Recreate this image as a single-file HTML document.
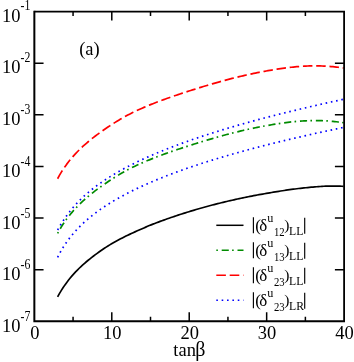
<!DOCTYPE html>
<html><head><meta charset="utf-8"><title>plot</title>
<style>html,body{margin:0;padding:0;background:#fff;}body{width:354px;height:362px;overflow:hidden;font-family:"Liberation Serif",serif;}</style>
</head><body>
<svg width="354" height="362" viewBox="0 0 354 362" style="display:block">
<rect width="354" height="362" fill="#fff"/>
<g fill="none" stroke-linejoin="round">
<path d="M57.60,296.89 L59.40,293.61 L61.20,290.59 L63.00,287.77 L64.79,285.14 L66.59,282.65 L68.39,280.29 L70.19,278.05 L71.99,275.90 L73.79,273.86 L75.59,271.92 L77.39,270.05 L79.18,268.27 L80.98,266.55 L82.78,264.89 L84.58,263.30 L86.38,261.75 L88.18,260.26 L89.98,258.81 L91.78,257.40 L93.57,256.01 L95.37,254.66 L97.17,253.33 L98.97,252.03 L100.77,250.77 L102.57,249.53 L104.37,248.32 L106.17,247.14 L107.96,245.99 L109.76,244.88 L111.56,243.80 L113.36,242.75 L115.16,241.74 L116.96,240.75 L118.76,239.79 L120.56,238.84 L122.35,237.91 L124.15,237.00 L125.95,236.11 L127.75,235.24 L129.55,234.37 L131.35,233.53 L133.15,232.70 L134.95,231.88 L136.74,231.07 L138.54,230.28 L140.34,229.50 L142.14,228.71 L143.94,227.92 L145.74,227.12 L147.54,226.34 L149.34,225.59 L151.13,224.86 L152.93,224.15 L154.73,223.45 L156.53,222.76 L158.33,222.08 L160.13,221.41 L161.93,220.75 L163.73,220.09 L165.52,219.44 L167.32,218.81 L169.12,218.18 L170.92,217.55 L172.72,216.94 L174.52,216.33 L176.32,215.73 L178.12,215.14 L179.91,214.55 L181.71,213.97 L183.51,213.40 L185.31,212.83 L187.11,212.27 L188.91,211.71 L190.71,211.16 L192.51,210.62 L194.30,210.09 L196.10,209.55 L197.90,209.03 L199.70,208.51 L201.50,208.00 L203.30,207.49 L205.10,206.99 L206.90,206.50 L208.69,206.01 L210.49,205.53 L212.29,205.05 L214.09,204.58 L215.89,204.12 L217.69,203.66 L219.49,203.21 L221.29,202.76 L223.08,202.32 L224.88,201.89 L226.68,201.46 L228.48,201.04 L230.28,200.62 L232.08,200.21 L233.88,199.80 L235.68,199.40 L237.47,199.01 L239.27,198.62 L241.07,198.24 L242.87,197.86 L244.67,197.49 L246.47,197.12 L248.27,196.76 L250.07,196.40 L251.86,196.05 L253.66,195.71 L255.46,195.36 L257.26,195.03 L259.06,194.70 L260.86,194.37 L262.66,194.05 L264.46,193.73 L266.25,193.41 L268.05,193.10 L269.85,192.79 L271.65,192.48 L273.45,192.18 L275.25,191.88 L277.05,191.59 L278.85,191.30 L280.64,191.02 L282.44,190.74 L284.24,190.47 L286.04,190.20 L287.84,189.94 L289.64,189.69 L291.44,189.44 L293.24,189.20 L295.03,188.97 L296.83,188.74 L298.63,188.52 L300.43,188.31 L302.23,188.11 L304.03,187.92 L305.83,187.73 L307.63,187.55 L309.42,187.38 L311.22,187.22 L313.02,187.06 L314.82,186.90 L316.62,186.76 L318.42,186.62 L320.22,186.49 L322.02,186.37 L323.81,186.27 L325.61,186.18 L327.41,186.10 L329.21,186.06 L331.01,186.04 L332.81,186.04 L334.61,186.05 L336.41,186.07 L338.20,186.11 L340.00,186.16 L341.80,186.23 L343.60,186.31" stroke="#000" stroke-width="1.7"/>
<path d="M57.60,233.46 L59.40,230.13 L61.20,227.07 L63.00,224.23 L64.79,221.58 L66.59,219.08 L68.39,216.72 L70.19,214.48 L71.99,212.35 L73.79,210.30 L75.59,208.34 L77.39,206.45 L79.18,204.64 L80.98,202.89 L82.78,201.19 L84.58,199.56 L86.38,197.97 L88.18,196.44 L89.98,194.94 L91.78,193.49 L93.57,192.08 L95.37,190.70 L97.17,189.35 L98.97,188.03 L100.77,186.73 L102.57,185.46 L104.37,184.21 L106.17,182.98 L107.96,181.77 L109.76,180.57 L111.56,179.39 L113.36,178.23 L115.16,177.09 L116.96,175.97 L118.76,174.87 L120.56,173.80 L122.35,172.75 L124.15,171.73 L125.95,170.74 L127.75,169.78 L129.55,168.84 L131.35,167.93 L133.15,167.04 L134.95,166.17 L136.74,165.32 L138.54,164.49 L140.34,163.68 L142.14,162.88 L143.94,162.10 L145.74,161.33 L147.54,160.58 L149.34,159.84 L151.13,159.11 L152.93,158.40 L154.73,157.69 L156.53,157.00 L158.33,156.31 L160.13,155.63 L161.93,154.97 L163.73,154.31 L165.52,153.66 L167.32,153.01 L169.12,152.38 L170.92,151.75 L172.72,151.13 L174.52,150.51 L176.32,149.90 L178.12,149.29 L179.91,148.69 L181.71,148.09 L183.51,147.50 L185.31,146.92 L187.11,146.33 L188.91,145.75 L190.71,145.18 L192.51,144.61 L194.30,144.04 L196.10,143.48 L197.90,142.92 L199.70,142.36 L201.50,141.80 L203.30,141.25 L205.10,140.71 L206.90,140.16 L208.69,139.63 L210.49,139.09 L212.29,138.57 L214.09,138.04 L215.89,137.53 L217.69,137.02 L219.49,136.51 L221.29,136.01 L223.08,135.52 L224.88,135.03 L226.68,134.55 L228.48,134.07 L230.28,133.60 L232.08,133.14 L233.88,132.69 L235.68,132.24 L237.47,131.80 L239.27,131.36 L241.07,130.93 L242.87,130.51 L244.67,130.10 L246.47,129.69 L248.27,129.29 L250.07,128.90 L251.86,128.51 L253.66,128.13 L255.46,127.76 L257.26,127.40 L259.06,127.04 L260.86,126.69 L262.66,126.35 L264.46,126.01 L266.25,125.68 L268.05,125.36 L269.85,125.05 L271.65,124.74 L273.45,124.44 L275.25,124.14 L277.05,123.86 L278.85,123.58 L280.64,123.31 L282.44,123.05 L284.24,122.81 L286.04,122.57 L287.84,122.34 L289.64,122.13 L291.44,121.93 L293.24,121.74 L295.03,121.56 L296.83,121.40 L298.63,121.25 L300.43,121.11 L302.23,120.99 L304.03,120.88 L305.83,120.79 L307.63,120.72 L309.42,120.66 L311.22,120.61 L313.02,120.58 L314.82,120.57 L316.62,120.58 L318.42,120.60 L320.22,120.63 L322.02,120.69 L323.81,120.76 L325.61,120.85 L327.41,120.96 L329.21,121.08 L331.01,121.23 L332.81,121.39 L334.61,121.56 L336.41,121.76 L338.20,121.97 L340.00,122.21 L341.80,122.46 L343.60,122.73" stroke="#008b00" stroke-width="1.7" stroke-dasharray="1.6,3.83,7.15,3.33"/>
<path d="M57.60,178.76 L59.40,175.43 L61.20,172.37 L63.00,169.53 L64.79,166.88 L66.59,164.38 L68.39,162.02 L70.19,159.78 L71.99,157.65 L73.79,155.60 L75.59,153.64 L77.39,151.75 L79.18,149.94 L80.98,148.19 L82.78,146.49 L84.58,144.86 L86.38,143.27 L88.18,141.74 L89.98,140.24 L91.78,138.79 L93.57,137.38 L95.37,136.00 L97.17,134.65 L98.97,133.33 L100.77,132.03 L102.57,130.76 L104.37,129.51 L106.17,128.28 L107.96,127.07 L109.76,125.87 L111.56,124.69 L113.36,123.53 L115.16,122.39 L116.96,121.27 L118.76,120.17 L120.56,119.10 L122.35,118.05 L124.15,117.03 L125.95,116.04 L127.75,115.08 L129.55,114.14 L131.35,113.23 L133.15,112.34 L134.95,111.47 L136.74,110.62 L138.54,109.79 L140.34,108.98 L142.14,108.18 L143.94,107.40 L145.74,106.63 L147.54,105.88 L149.34,105.14 L151.13,104.41 L152.93,103.70 L154.73,102.99 L156.53,102.30 L158.33,101.61 L160.13,100.93 L161.93,100.27 L163.73,99.61 L165.52,98.96 L167.32,98.31 L169.12,97.68 L170.92,97.05 L172.72,96.43 L174.52,95.81 L176.32,95.20 L178.12,94.59 L179.91,93.99 L181.71,93.39 L183.51,92.80 L185.31,92.22 L187.11,91.63 L188.91,91.05 L190.71,90.48 L192.51,89.91 L194.30,89.34 L196.10,88.78 L197.90,88.22 L199.70,87.66 L201.50,87.10 L203.30,86.55 L205.10,86.01 L206.90,85.46 L208.69,84.93 L210.49,84.39 L212.29,83.87 L214.09,83.34 L215.89,82.83 L217.69,82.32 L219.49,81.81 L221.29,81.31 L223.08,80.82 L224.88,80.33 L226.68,79.85 L228.48,79.37 L230.28,78.90 L232.08,78.44 L233.88,77.99 L235.68,77.54 L237.47,77.10 L239.27,76.66 L241.07,76.23 L242.87,75.81 L244.67,75.40 L246.47,74.99 L248.27,74.59 L250.07,74.20 L251.86,73.81 L253.66,73.43 L255.46,73.06 L257.26,72.70 L259.06,72.34 L260.86,71.99 L262.66,71.65 L264.46,71.31 L266.25,70.98 L268.05,70.66 L269.85,70.35 L271.65,70.04 L273.45,69.74 L275.25,69.44 L277.05,69.16 L278.85,68.88 L280.64,68.61 L282.44,68.35 L284.24,68.11 L286.04,67.87 L287.84,67.64 L289.64,67.43 L291.44,67.23 L293.24,67.04 L295.03,66.86 L296.83,66.70 L298.63,66.55 L300.43,66.41 L302.23,66.29 L304.03,66.18 L305.83,66.09 L307.63,66.02 L309.42,65.96 L311.22,65.91 L313.02,65.88 L314.82,65.87 L316.62,65.88 L318.42,65.90 L320.22,65.93 L322.02,65.99 L323.81,66.06 L325.61,66.15 L327.41,66.26 L329.21,66.38 L331.01,66.53 L332.81,66.69 L334.61,66.86 L336.41,67.06 L338.20,67.27 L340.00,67.51 L341.80,67.76 L343.60,68.03" stroke="#ff0000" stroke-width="1.7" stroke-dasharray="9.5,3.78"/>
<path d="M57.60,230.03 L59.40,226.81 L61.20,223.82 L63.00,221.05 L64.79,218.44 L66.59,215.85 L68.39,213.37 L70.19,211.03 L71.99,208.80 L73.79,206.68 L75.59,204.65 L77.39,202.72 L79.18,200.86 L80.98,199.07 L82.78,197.35 L84.58,195.69 L86.38,194.08 L88.18,192.53 L89.98,191.03 L91.78,189.57 L93.57,188.15 L95.37,186.77 L97.17,185.43 L98.97,184.12 L100.77,182.85 L102.57,181.61 L104.37,180.39 L106.17,179.20 L107.96,178.04 L109.76,176.90 L111.56,175.79 L113.36,174.70 L115.16,173.63 L116.96,172.58 L118.76,171.55 L120.56,170.53 L122.35,169.54 L124.15,168.56 L125.95,167.60 L127.75,166.65 L129.55,165.72 L131.35,164.80 L133.15,163.90 L134.95,163.01 L136.74,162.13 L138.54,161.27 L140.34,160.42 L142.14,159.58 L143.94,158.75 L145.74,157.93 L147.54,157.12 L149.34,156.32 L151.13,155.53 L152.93,154.75 L154.73,153.98 L156.53,153.22 L158.33,152.47 L160.13,151.73 L161.93,150.99 L163.73,150.27 L165.52,149.55 L167.32,148.83 L169.12,148.13 L170.92,147.43 L172.72,146.74 L174.52,146.06 L176.32,145.38 L178.12,144.71 L179.91,144.05 L181.71,143.39 L183.51,142.74 L185.31,142.09 L187.11,141.45 L188.91,140.81 L190.71,140.19 L192.51,139.56 L194.30,138.94 L196.10,138.33 L197.90,137.72 L199.70,137.12 L201.50,136.52 L203.30,135.92 L205.10,135.34 L206.90,134.75 L208.69,134.17 L210.49,133.59 L212.29,133.02 L214.09,132.46 L215.89,131.89 L217.69,131.33 L219.49,130.78 L221.29,130.23 L223.08,129.68 L224.88,129.14 L226.68,128.60 L228.48,128.06 L230.28,127.53 L232.08,127.00 L233.88,126.47 L235.68,125.95 L237.47,125.43 L239.27,124.91 L241.07,124.40 L242.87,123.89 L244.67,123.39 L246.47,122.88 L248.27,122.38 L250.07,121.88 L251.86,121.39 L253.66,120.90 L255.46,120.41 L257.26,119.92 L259.06,119.44 L260.86,118.96 L262.66,118.48 L264.46,118.01 L266.25,117.54 L268.05,117.07 L269.85,116.60 L271.65,116.14 L273.45,115.67 L275.25,115.21 L277.05,114.76 L278.85,114.30 L280.64,113.85 L282.44,113.40 L284.24,112.95 L286.04,112.50 L287.84,112.06 L289.64,111.62 L291.44,111.18 L293.24,110.74 L295.03,110.31 L296.83,109.87 L298.63,109.44 L300.43,109.01 L302.23,108.59 L304.03,108.16 L305.83,107.74 L307.63,107.32 L309.42,106.90 L311.22,106.48 L313.02,106.07 L314.82,105.65 L316.62,105.24 L318.42,104.83 L320.22,104.42 L322.02,104.02 L323.81,103.61 L325.61,103.21 L327.41,102.81 L329.21,102.41 L331.01,102.01 L332.81,101.62 L334.61,101.22 L336.41,100.83 L338.20,100.44 L340.00,100.05 L341.80,99.66 L343.60,99.27" stroke="#0000ff" stroke-width="1.7" stroke-dasharray="1.6,3.74"/>
<path d="M57.60,257.30 L59.40,253.80 L61.20,250.57 L63.00,247.56 L64.79,244.76 L66.59,242.13 L68.39,239.64 L70.19,237.30 L71.99,235.07 L73.79,232.95 L75.59,230.92 L77.39,228.99 L79.18,227.13 L80.98,225.34 L82.78,223.62 L84.58,221.97 L86.38,220.36 L88.18,218.82 L89.98,217.32 L91.78,215.86 L93.57,214.45 L95.37,213.07 L97.17,211.74 L98.97,210.44 L100.77,209.17 L102.57,207.93 L104.37,206.72 L106.17,205.54 L107.96,204.39 L109.76,203.26 L111.56,202.15 L113.36,201.07 L115.16,200.01 L116.96,198.97 L118.76,197.94 L120.56,196.94 L122.35,195.96 L124.15,194.99 L125.95,194.04 L127.75,193.10 L129.55,192.18 L131.35,191.27 L133.15,190.38 L134.95,189.50 L136.74,188.64 L138.54,187.78 L140.34,186.94 L142.14,186.11 L143.94,185.29 L145.74,184.49 L147.54,183.69 L149.34,182.91 L151.13,182.13 L152.93,181.36 L154.73,180.61 L156.53,179.86 L158.33,179.12 L160.13,178.39 L161.93,177.67 L163.73,176.95 L165.52,176.24 L167.32,175.55 L169.12,174.85 L170.92,174.17 L172.72,173.49 L174.52,172.82 L176.32,172.16 L178.12,171.50 L179.91,170.85 L181.71,170.21 L183.51,169.57 L185.31,168.94 L187.11,168.31 L188.91,167.69 L190.71,167.07 L192.51,166.47 L194.30,165.86 L196.10,165.26 L197.90,164.67 L199.70,164.08 L201.50,163.49 L203.30,162.91 L205.10,162.34 L206.90,161.77 L208.69,161.20 L210.49,160.64 L212.29,160.08 L214.09,159.53 L215.89,158.98 L217.69,158.44 L219.49,157.90 L221.29,157.36 L223.08,156.83 L224.88,156.30 L226.68,155.77 L228.48,155.25 L230.28,154.73 L232.08,154.22 L233.88,153.71 L235.68,153.20 L237.47,152.70 L239.27,152.20 L241.07,151.70 L242.87,151.20 L244.67,150.71 L246.47,150.22 L248.27,149.74 L250.07,149.26 L251.86,148.78 L253.66,148.30 L255.46,147.83 L257.26,147.36 L259.06,146.89 L260.86,146.42 L262.66,145.96 L264.46,145.50 L266.25,145.04 L268.05,144.59 L269.85,144.14 L271.65,143.69 L273.45,143.24 L275.25,142.79 L277.05,142.35 L278.85,141.91 L280.64,141.47 L282.44,141.04 L284.24,140.61 L286.04,140.17 L287.84,139.75 L289.64,139.32 L291.44,138.90 L293.24,138.47 L295.03,138.05 L296.83,137.64 L298.63,137.22 L300.43,136.81 L302.23,136.39 L304.03,135.98 L305.83,135.58 L307.63,135.17 L309.42,134.77 L311.22,134.36 L313.02,133.96 L314.82,133.56 L316.62,133.17 L318.42,132.77 L320.22,132.38 L322.02,131.99 L323.81,131.60 L325.61,131.21 L327.41,130.82 L329.21,130.44 L331.01,130.06 L332.81,129.68 L334.61,129.30 L336.41,128.92 L338.20,128.54 L340.00,128.17 L341.80,127.79 L343.60,127.42" stroke="#0000ff" stroke-width="1.7" stroke-dasharray="1.6,3.74"/>
</g>
<path d="M34.35,10.7V322.25 M33.35,321.25H345.0" stroke="#000" stroke-width="2" fill="none"/>
<path d="M34.35,11.6H345.0 M344.1,11.6V321.25" stroke="#000" stroke-width="1.8" fill="none"/>
<path d="M34.35,63.21h9.2 M344.1,63.21h-9.2 M34.35,114.82h9.2 M344.1,114.82h-9.2 M34.35,166.42h9.2 M344.1,166.42h-9.2 M34.35,218.03h9.2 M344.1,218.03h-9.2 M34.35,269.64h9.2 M344.1,269.64h-9.2 M73.07,11.6v4.5 M73.07,321.25v-4.5 M111.79,11.6v9.0 M111.79,321.25v-9.0 M150.51,11.6v4.5 M150.51,321.25v-4.5 M189.22,11.6v9.0 M189.22,321.25v-9.0 M227.94,11.6v4.5 M227.94,321.25v-4.5 M266.66,11.6v9.0 M266.66,321.25v-9.0 M305.38,11.6v4.5 M305.38,321.25v-4.5" stroke="#000" stroke-width="1.5" fill="none"/>
<g font-family="Liberation Serif, serif" fill="#000" style="filter:grayscale(1)">
<text transform="translate(2.00,21.70) scale(1,1.03)" font-size="18.5px" text-anchor="start">10</text>
<text transform="translate(20.60,10.40) scale(1,1.17)" font-size="11.8px" text-anchor="start">-1</text>
<text transform="translate(2.00,73.43) scale(1,1.03)" font-size="18.5px" text-anchor="start">10</text>
<text transform="translate(20.60,62.18) scale(1,1.17)" font-size="11.8px" text-anchor="start">-2</text>
<text transform="translate(2.00,125.16) scale(1,1.03)" font-size="18.5px" text-anchor="start">10</text>
<text transform="translate(20.60,113.96) scale(1,1.17)" font-size="11.8px" text-anchor="start">-3</text>
<text transform="translate(2.00,176.88) scale(1,1.03)" font-size="18.5px" text-anchor="start">10</text>
<text transform="translate(20.60,165.73) scale(1,1.17)" font-size="11.8px" text-anchor="start">-4</text>
<text transform="translate(2.00,228.61) scale(1,1.03)" font-size="18.5px" text-anchor="start">10</text>
<text transform="translate(20.60,217.51) scale(1,1.17)" font-size="11.8px" text-anchor="start">-5</text>
<text transform="translate(2.00,280.34) scale(1,1.03)" font-size="18.5px" text-anchor="start">10</text>
<text transform="translate(20.60,269.29) scale(1,1.17)" font-size="11.8px" text-anchor="start">-6</text>
<text transform="translate(2.00,332.07) scale(1,1.03)" font-size="18.5px" text-anchor="start">10</text>
<text transform="translate(20.60,321.07) scale(1,1.17)" font-size="11.8px" text-anchor="start">-7</text>
<text transform="translate(34.75,339.40) scale(1,1.03)" font-size="18.5px" text-anchor="middle">0</text>
<text transform="translate(112.19,339.40) scale(1,1.03)" font-size="18.5px" text-anchor="middle">10</text>
<text transform="translate(189.62,339.40) scale(1,1.03)" font-size="18.5px" text-anchor="middle">20</text>
<text transform="translate(267.06,339.40) scale(1,1.03)" font-size="18.5px" text-anchor="middle">30</text>
<text transform="translate(344.50,339.40) scale(1,1.03)" font-size="18.5px" text-anchor="middle">40</text>
<text transform="translate(173.30,356.10) scale(1,1.03)" font-size="18.5px" text-anchor="start">tan</text>
<text transform="translate(195.20,356.10) scale(1,1.03)" font-size="20px" text-anchor="start">β</text>
<text transform="translate(79.20,55.10) scale(1,1.03)" font-size="18.5px" text-anchor="start">(a)</text>
<path d="M253.4,217.2V233.2 M304.7,217.8V233.7" stroke="#000" stroke-width="1.15" fill="none"/>
<text transform="translate(255.20,230.80) scale(1,1.03)" font-size="17px" text-anchor="start">(</text>
<text transform="translate(259.30,230.80) scale(1,1.03)" font-size="17px" text-anchor="start">δ</text>
<text transform="translate(267.30,221.90) scale(1,1.03)" font-size="12.2px" text-anchor="start">u</text>
<text transform="translate(274.00,235.80) scale(1,1.2)" font-size="10.7px" text-anchor="start">12</text>
<text transform="translate(284.20,230.00) scale(1,0.98)" font-size="15.5px" text-anchor="start">)</text>
<text transform="translate(289.10,235.40) scale(1,1.0)" font-size="11.7px" text-anchor="start">LL</text>
<path d="M253.4,242.2V258.2 M304.7,242.8V258.7" stroke="#000" stroke-width="1.15" fill="none"/>
<text transform="translate(255.20,255.80) scale(1,1.03)" font-size="17px" text-anchor="start">(</text>
<text transform="translate(259.30,255.80) scale(1,1.03)" font-size="17px" text-anchor="start">δ</text>
<text transform="translate(267.30,246.90) scale(1,1.03)" font-size="12.2px" text-anchor="start">u</text>
<text transform="translate(274.00,260.80) scale(1,1.2)" font-size="10.7px" text-anchor="start">13</text>
<text transform="translate(284.20,255.00) scale(1,0.98)" font-size="15.5px" text-anchor="start">)</text>
<text transform="translate(289.10,260.40) scale(1,1.0)" font-size="11.7px" text-anchor="start">LL</text>
<path d="M253.4,267.2V283.2 M304.7,267.8V283.7" stroke="#000" stroke-width="1.15" fill="none"/>
<text transform="translate(255.20,280.80) scale(1,1.03)" font-size="17px" text-anchor="start">(</text>
<text transform="translate(259.30,280.80) scale(1,1.03)" font-size="17px" text-anchor="start">δ</text>
<text transform="translate(267.30,271.90) scale(1,1.03)" font-size="12.2px" text-anchor="start">u</text>
<text transform="translate(274.00,285.80) scale(1,1.2)" font-size="10.7px" text-anchor="start">23</text>
<text transform="translate(284.20,280.00) scale(1,0.98)" font-size="15.5px" text-anchor="start">)</text>
<text transform="translate(289.10,285.40) scale(1,1.0)" font-size="11.7px" text-anchor="start">LL</text>
<path d="M253.4,292.2V308.2 M304.7,292.8V308.7" stroke="#000" stroke-width="1.15" fill="none"/>
<text transform="translate(255.20,305.80) scale(1,1.03)" font-size="17px" text-anchor="start">(</text>
<text transform="translate(259.30,305.80) scale(1,1.03)" font-size="17px" text-anchor="start">δ</text>
<text transform="translate(267.30,296.90) scale(1,1.03)" font-size="12.2px" text-anchor="start">u</text>
<text transform="translate(274.00,310.80) scale(1,1.2)" font-size="10.7px" text-anchor="start">23</text>
<text transform="translate(284.20,305.00) scale(1,0.98)" font-size="15.5px" text-anchor="start">)</text>
<text transform="translate(289.10,310.40) scale(1,1.0)" font-size="11.7px" text-anchor="start">LR</text>
</g>
<path d="M216.3,225.3H243.5" stroke="#000" stroke-width="1.5" fill="none"/>
<path d="M216.3,250.3H243.5" stroke="#008b00" stroke-width="1.5" fill="none" stroke-dasharray="1.6,3.8,7.1,3.3"/>
<path d="M216.3,275.3H243.5" stroke="#ff0000" stroke-width="1.5" fill="none" stroke-dasharray="9.6,3.8"/>
<path d="M216.3,300.3H243.5" stroke="#0000ff" stroke-width="1.5" fill="none" stroke-dasharray="1.6,3.76"/>
</svg>
</body></html>
